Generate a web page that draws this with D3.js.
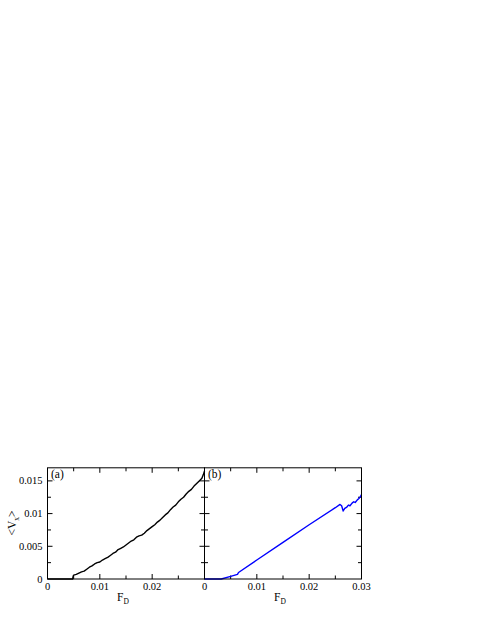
<!DOCTYPE html>
<html><head><meta charset="utf-8">
<script src="https://cdn.jsdelivr.net/npm/d3@7"></script>
<style>body{margin:0;background:#fff}svg{display:block}</style>
</head><body>
<script>
const fA = [0,0.0048,0.0049,0.0050,0.0055,0.006,0.0065,0.007,0.0075,0.008,0.0085,0.009,0.0095,0.010,0.0105,0.011,0.0115,0.012,0.0125,0.013,0.0135,0.014,0.0145,0.015,0.0155,0.016,0.0165,0.017,0.0175,0.018,0.0185,0.019,0.0195,0.020,0.0205,0.021,0.0215,0.022,0.0225,0.023,0.0235,0.024,0.0245,0.025,0.0255,0.026,0.0265,0.027,0.0275,0.028,0.0285,0.029,0.0295,0.0298,0.030];
const vA = [0,0,0.0004,0.0006,0.0007,0.0009,0.0011,0.0012,0.0015,0.0018,0.0020,0.0023,0.0025,0.0026,0.0029,0.0031,0.0033,0.0036,0.0039,0.0041,0.0045,0.0047,0.0049,0.0052,0.0055,0.0058,0.0060,0.0064,0.0066,0.0067,0.0070,0.0074,0.0077,0.0080,0.0083,0.0087,0.0090,0.0094,0.0098,0.0101,0.0106,0.0110,0.0113,0.0118,0.0122,0.0125,0.0130,0.0134,0.0137,0.0142,0.0146,0.0150,0.0154,0.0160,0.0165];
const fB = [0,0.0032,0.005,0.0063,0.0065,0.010,0.015,0.020,0.025,0.0259,0.0262,0.0265,0.0268,0.0272,0.0275,0.0278,0.0282,0.0285,0.0288,0.0292,0.0295,0.0298,0.030];
const vB = [0,0,0.0004,0.0007,0.0010,0.0029,0.0056,0.0083,0.0109,0.0114,0.0112,0.0104,0.0108,0.0110,0.0113,0.0112,0.0116,0.0118,0.0117,0.0121,0.0123,0.0126,0.0129];
const xTicksMajor = [0,0.01,0.02,0.03];
const xTickLabelsA = ["0","0.01","0.02"];
const xTickLabelsB = ["0","0.01","0.02","0.03"];
const yTicksMajor = [0,0.005,0.01,0.015];
const yTickLabels = ["0","0.005","0.01","0.015"];
const panelLabels = ["(a)","(b)"];

const W=485,H=627;
const svg=d3.select("body").append("svg").attr("width",W).attr("height",H)
  .attr("font-family","'Liberation Serif', 'DejaVu Serif', serif");
const pTop=467.8,pBottom=579;
const y=d3.scaleLinear().domain([0,0.017]).range([pBottom,pTop]);
const panels=[{x0:47.5,x1:204.5,f:fA,v:vA,color:"#000",labels:xTickLabelsA,name:panelLabels[0]},
              {x0:204.5,x1:361.5,f:fB,v:vB,color:"#0000ff",labels:xTickLabelsB,name:panelLabels[1]}];
const minorX=d3.range(0,0.0301,0.005), minorY=d3.range(0,0.0151,0.0025);
panels.forEach((p,i)=>{
  const x=d3.scaleLinear().domain([0,0.03]).range([p.x0,p.x1]);
  const g=svg.append("g");
  const tk=g.append("g").attr("stroke","#000").attr("stroke-width",1);
  minorX.forEach(t=>{
    const isMaj=xTicksMajor.some(m=>Math.abs(m-t)<1e-9);
    const L=isMaj?5:3.5;
    if(t>0&&t<0.0299){
      tk.append("line").attr("x1",x(t)).attr("x2",x(t)).attr("y1",pBottom).attr("y2",pBottom-L);
      tk.append("line").attr("x1",x(t)).attr("x2",x(t)).attr("y1",pTop).attr("y2",pTop+L);
    }
  });
  minorY.forEach(t=>{
    const isMaj=yTicksMajor.some(m=>Math.abs(m-t)<1e-9);
    const L=isMaj?5:3.5;
    if(t>0){
      tk.append("line").attr("x1",p.x0).attr("x2",p.x0+L).attr("y1",y(t)).attr("y2",y(t));
      tk.append("line").attr("x1",p.x1).attr("x2",p.x1-L).attr("y1",y(t)).attr("y2",y(t));
    }
  });
  p.labels.forEach((lab,j)=>{
    g.append("text").attr("x",x(xTicksMajor[j])).attr("y",589.5).attr("text-anchor","middle").attr("font-size",10.5).attr("fill","#000").text(lab);
  });
  const xt=g.append("text").attr("x",(p.x0+p.x1)/2-3).attr("y",600.5).attr("text-anchor","middle").attr("font-size",11.5).attr("fill","#000");
  xt.append("tspan").text("F");
  xt.append("tspan").attr("font-size",7.5).attr("dy",3).text("D");
  const data=p.f.map((f,k)=>[f,p.v[k]]);
  g.append("path").datum(data).attr("fill","none").attr("stroke",p.color).attr("stroke-width",1.4)
    .attr("stroke-linejoin","round").attr("d",d3.line().x(d=>x(d[0])).y(d=>y(d[1])));
  g.append("rect").attr("x",p.x0).attr("y",pTop).attr("width",p.x1-p.x0).attr("height",pBottom-pTop)
    .attr("fill","none").attr("stroke","#000").attr("stroke-width",1);
  g.append("text").attr("x",p.x0+3.5).attr("y",478).attr("font-size",11.5).attr("fill","#000").text(p.name);
});
yTicksMajor.forEach((t,j)=>{
  svg.append("text").attr("x",42.5).attr("y",y(t)+3.5).attr("text-anchor","end").attr("font-size",10.5).attr("fill","#000").text(yTickLabels[j]);
});
const yt=svg.append("text").attr("transform",`translate(16,523) rotate(-90)`).attr("text-anchor","middle").attr("font-size",11.5).attr("fill","#000");
yt.append("tspan").text("<V");
yt.append("tspan").attr("font-size",7.5).attr("dy",3).text("x");
yt.append("tspan").attr("dy",-3).text(">");
</script>
</body></html>
